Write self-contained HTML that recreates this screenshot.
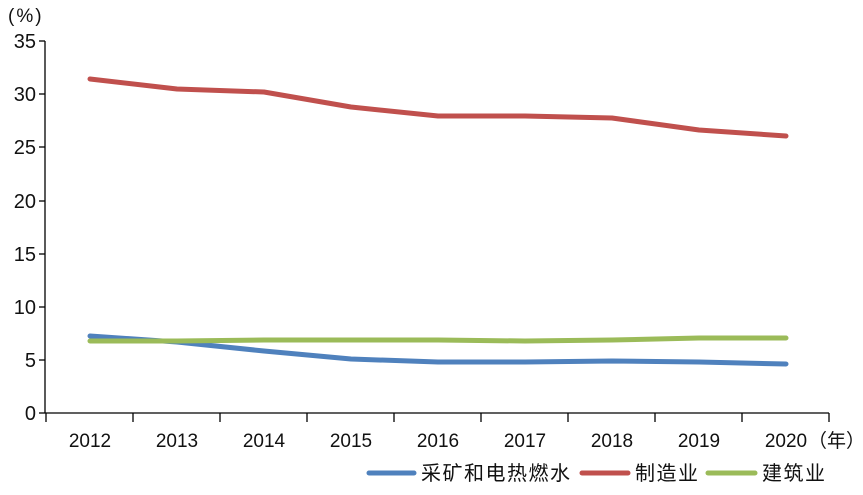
<!DOCTYPE html>
<html><head><meta charset="utf-8"><style>
body{margin:0;background:#fff;}
svg text{font-family:"Liberation Sans","Noto Sans CJK SC",sans-serif;fill:#111;}
</style></head><body>
<svg width="863" height="490" viewBox="0 0 863 490" xmlns="http://www.w3.org/2000/svg">
<g stroke="#000" stroke-width="1.3" fill="none">
<line x1="45" y1="41" x2="45" y2="413"/>
<line x1="45" y1="413" x2="829" y2="413"/>
<line x1="39" y1="41" x2="45" y2="41"/>
<line x1="39" y1="94" x2="45" y2="94"/>
<line x1="39" y1="147" x2="45" y2="147"/>
<line x1="39" y1="201" x2="45" y2="201"/>
<line x1="39" y1="254" x2="45" y2="254"/>
<line x1="39" y1="307" x2="45" y2="307"/>
<line x1="39" y1="360" x2="45" y2="360"/>
<line x1="39" y1="413" x2="45" y2="413"/>
<line x1="46" y1="413" x2="46" y2="422"/>
<line x1="133" y1="413" x2="133" y2="422"/>
<line x1="220" y1="413" x2="220" y2="422"/>
<line x1="307" y1="413" x2="307" y2="422"/>
<line x1="394" y1="413" x2="394" y2="422"/>
<line x1="481" y1="413" x2="481" y2="422"/>
<line x1="568" y1="413" x2="568" y2="422"/>
<line x1="655" y1="413" x2="655" y2="422"/>
<line x1="742" y1="413" x2="742" y2="422"/>
<line x1="829" y1="413" x2="829" y2="422"/>
</g>
<g font-size="20" text-anchor="end">
<text x="36" y="48">35</text>
<text x="36" y="101">30</text>
<text x="36" y="154">25</text>
<text x="36" y="208">20</text>
<text x="36" y="261">15</text>
<text x="36" y="314">10</text>
<text x="36" y="367">5</text>
<text x="36" y="420">0</text>
</g>
<text x="8" y="22" font-size="19" letter-spacing="2">(%)</text>
<g font-size="19" text-anchor="middle">
<text x="90" y="447">2012</text>
<text x="177" y="447">2013</text>
<text x="264" y="447">2014</text>
<text x="351" y="447">2015</text>
<text x="438" y="447">2016</text>
<text x="525" y="447">2017</text>
<text x="612" y="447">2018</text>
<text x="699" y="447">2019</text>
<text x="786" y="447">2020</text>
</g>
<text x="808" y="447" font-size="19">（年）</text>
<g fill="none" stroke-width="5" stroke-linecap="round" stroke-linejoin="round">
<polyline stroke="#c0504d" points="90,79 177,89 264,92 351,107 438,116 525,116 612,118 699,130 786,136"/>
<polyline stroke="#4f81bd" points="90,336 177,342 264,351 351,359 438,362 525,362 612,361 699,362 786,364"/>
<polyline stroke="#9bbb59" points="90,341 177,341 264,340 351,340 438,340 525,341 612,340 699,338 786,338"/>
</g>
<g stroke-width="5" stroke-linecap="round">
<line x1="369" y1="473" x2="414" y2="473" stroke="#4f81bd"/>
<line x1="582" y1="473" x2="628" y2="473" stroke="#c0504d"/>
<line x1="708" y1="473" x2="755" y2="473" stroke="#9bbb59"/>
</g>
<g font-size="20" letter-spacing="1.5">
<text x="421" y="480">采矿和电热燃水</text>
<text x="635" y="480">制造业</text>
<text x="762" y="480">建筑业</text>
</g>
</svg>
</body></html>
